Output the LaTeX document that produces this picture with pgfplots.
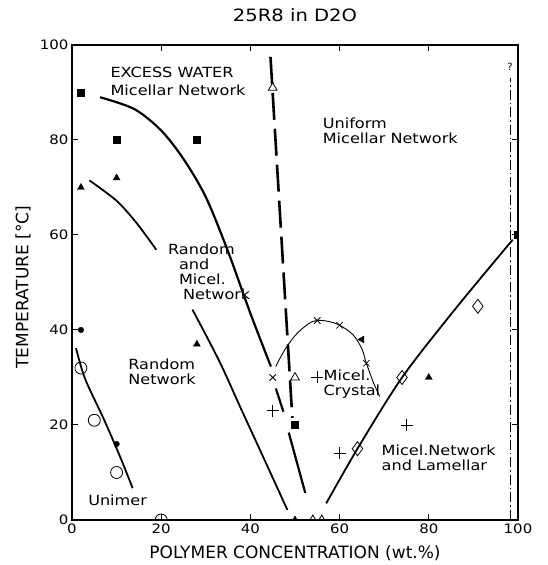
\documentclass[border=0pt]{standalone}
\usepackage{pgfplots}
\pgfplotsset{compat=1.18}
\usepackage{fontspec}
\setmainfont{DejaVu Sans}
\newfontfamily\widefont[FakeStretch=1.15]{DejaVu Sans}
\tikzset{lbl/.style={anchor=west, inner sep=0pt, align=left}}
\begin{document}
\begin{tikzpicture}
\useasboundingbox (-72pt,-45pt) rectangle (475pt,520pt);
\begin{axis}[
  at={(0,0)}, anchor=south west,
  scale only axis, width=446pt, height=475pt,
  xmin=0, xmax=100, ymin=0, ymax=100,
  xtick={0,20,...,100}, ytick={0,20,...,100},
  tick align=inside, major tick length=6pt,
  tick style={line width=1pt, black},
  axis line style={line width=1.4pt},
  /pgf/number format/assume math mode=true,
  ticklabel style={font=\widefont\fontsize{13}{13}\selectfont},
  xlabel={POLYMER CONCENTRATION (wt.\%)},
  ylabel={TEMPERATURE [°C]},
  label style={font=\fontsize{17}{17}\selectfont},
  x label style={at={(axis description cs:0.5,-0.07)}, anchor=center},
  y label style={at={(axis description cs:-0.11,0.49)}, anchor=center},
  title={25R8 in D2O},
  title style={at={(axis description cs:0.5,1)}, anchor=center, yshift=24pt,
    font=\widefont\fontsize{17}{17}\selectfont},
  clip marker paths=true,
]
% phase boundaries
\addplot[line width=2.2pt, smooth, tension=0.5] coordinates {(6.3,89)(14,86.5)(20,82)(25,76)(30,68)(35,56.5)(40,43.5)(44.6,32.3)};
\addplot[line width=2.2pt] coordinates {(45.7,27.7)(47.4,22.8)};
\addplot[line width=2.2pt] coordinates {(48.6,18.4)(52.3,5.7)};
\addplot[line width=1.8pt, smooth, tension=0.5] coordinates {(3.9,71.5)(10,67.2)(14.5,62.5)(18.9,56.9)};
\addplot[line width=1.8pt, smooth, tension=0.5] coordinates {(27,44.3)(33,33.5)(38,23.2)(43,13)(48.3,2.1)};
\addplot[line width=1.8pt, smooth, tension=0.5] coordinates {(0.9,36.2)(2.9,29.8)(7.1,21.3)(10.7,13.5)(13.6,6.7)};
\addplot[line width=1.8pt, smooth, tension=0.5] coordinates {(57,3.5)(64,15)(74,30)(86,44.5)(98.8,59)};
\addplot[line width=0.9pt, smooth, tension=0.6] coordinates {(45.7,32.3)(47.5,35.5)(50,38.8)(53,41.3)(55,42)(57.5,41.8)(60,41)(63,39)(65,36)(66,33)(67.6,28.9)(69,26)};
\addplot[line width=2.6pt, dash pattern=on 27pt off 9pt] coordinates {(44.5,97.5)(49.4,21.5)};
\addplot[line width=0.6pt, dash pattern=on 10pt off 3pt on 1.5pt off 3pt] coordinates {(98.2,0)(98.2,93)};
% measured points
\addplot[only marks, mark=square*, mark size=3.5pt] coordinates {(2,90)(10,80)(28,80)(50,20)(100,60)};
\addplot[only marks, mark=*, mark size=2.8pt] coordinates {(2,40)(10,16)};
\addplot[only marks, mark=triangle*, mark size=4pt] coordinates {(2,70)(10,72)(28,37)(80,30)(50,0)};
\addplot[only marks, mark=triangle*, mark size=4pt, mark options={rotate=90}] coordinates {(65,38)};
\addplot[only marks, mark=o, mark size=6pt, mark options={fill=white, line width=0.8pt}] coordinates {(2,32)(5,21)(10,10)(20,0)};
\addplot[only marks, mark=triangle, mark size=5pt, mark options={fill=white, line width=0.8pt}] coordinates {(45,91)(50,30)(54,0)(56,0)};
\addplot[only marks, mark=diamond, mark size=7pt, mark options={fill=white, line width=0.8pt}] coordinates {(64,15)(74,30)(91,45)};
\addplot[only marks, mark=x, mark size=4.5pt, mark options={line width=0.8pt}] coordinates {(45,30)(55,42)(60,41)(66,33)};
\addplot[only marks, mark=+, mark size=6pt, mark options={line width=0.8pt}] coordinates {(45,23)(55,30)(60,14)(75,20)};
% region labels
\node[lbl, font=\widefont\fontsize{14}{18.5}\selectfont] at (axis cs:8.6,92.35) {EXCESS WATER\\Micellar Network};
\node[lbl, font=\widefont\fontsize{14}{15}\selectfont] at (axis cs:56.2,82) {Uniform\\Micellar Network};
\node[lbl, font=\widefont\fontsize{14}{15}\selectfont] at (axis cs:21.5,52.2) {Random\\\hspace*{11pt}and\\\hspace*{11pt}Micel.\\\hspace*{15pt}Network};
\node[lbl, font=\widefont\fontsize{14}{15}\selectfont] at (axis cs:12.6,31.25) {Random\\Network};
\node[lbl, font=\widefont\fontsize{14}{14}\selectfont] at (axis cs:3.6,4.2) {Unimer};
\node[lbl, font=\widefont\fontsize{14}{15}\selectfont] at (axis cs:56.4,28.65) {Micel.\\Crystal};
\node[lbl, font=\widefont\fontsize{14}{15}\selectfont] at (axis cs:69.4,13.1) {Micel.Network\\and Lamellar};
\node[inner sep=0pt, font=\fontsize{10}{10}\selectfont] at (axis cs:98.2,95.4) {?};
\end{axis}
\end{tikzpicture}
\end{document}
